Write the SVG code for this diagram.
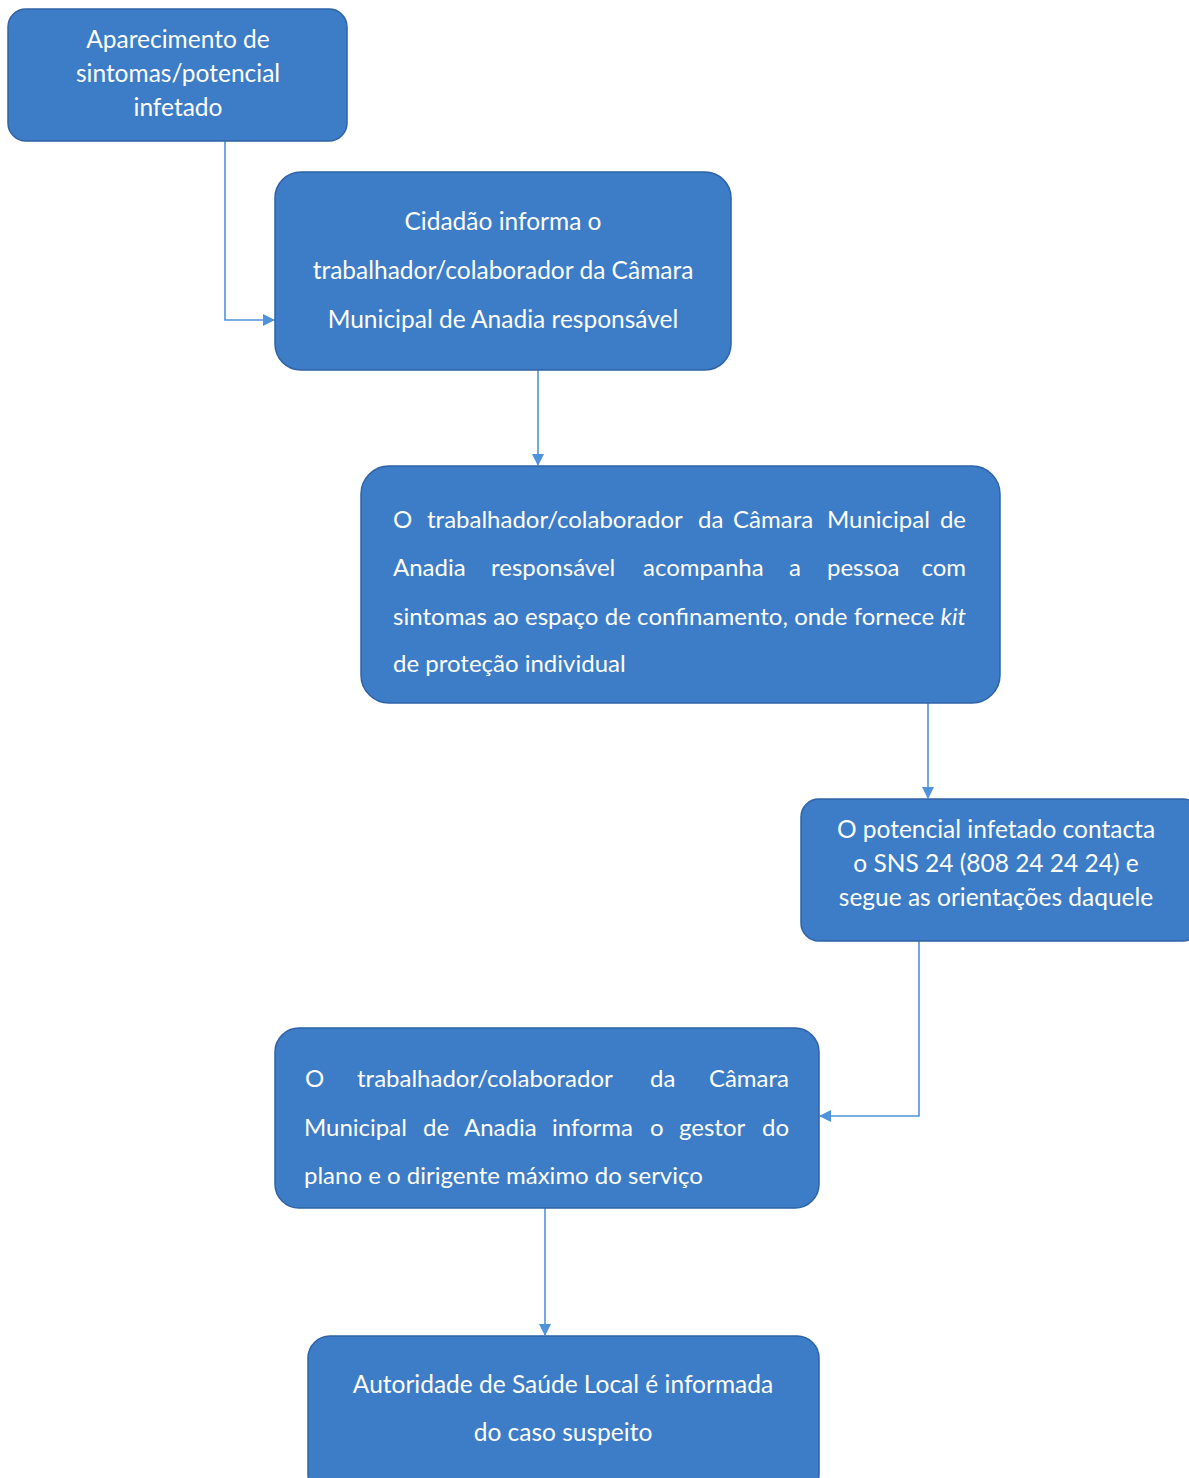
<svg xmlns="http://www.w3.org/2000/svg" width="1189" height="1478" viewBox="0 0 1189 1478">
<style>
.box{fill:#3d7cc6;stroke:#2f63a6;stroke-width:1.5}
.t{font-family:Lato,"Open Sans","Liberation Sans",sans-serif;font-size:24px;fill:#ffffff}
.c{text-anchor:middle;font-size:24.5px}
.e{text-anchor:end}
.conn{fill:none;stroke:#4f93dc;stroke-width:1.6}
</style>
<defs>
<marker id="arr" viewBox="0 0 12 12" refX="11" refY="6" markerWidth="12" markerHeight="12" markerUnits="userSpaceOnUse" orient="auto">
<path d="M0,0 L12,6 L0,12 z" fill="#4f93dc"/>
</marker>
</defs>
<rect width="1189" height="1478" fill="#ffffff"/>
<g id="connectors">
<path class="conn" d="M225,141 V320 H274" marker-end="url(#arr)"/>
<path class="conn" d="M538,370 V465" marker-end="url(#arr)"/>
<path class="conn" d="M928,703 V798" marker-end="url(#arr)"/>
<path class="conn" d="M919,941 V1116 H820" marker-end="url(#arr)"/>
<path class="conn" d="M545,1208 V1335" marker-end="url(#arr)"/>
</g>
<g id="n1">
<rect class="box" x="8" y="9" width="339" height="132" rx="18"/>
<text class="t c" x="178" y="48">Aparecimento de</text>
<text class="t c" x="178" y="82">sintomas/potencial</text>
<text class="t c" x="178" y="116">infetado</text>
</g>
<g id="n2">
<rect class="box" x="275" y="172" width="456" height="198" rx="26"/>
<text class="t c" x="503" y="230">Cidadão informa o</text>
<text class="t c" x="503" y="279">trabalhador/colaborador da Câmara</text>
<text class="t c" x="503" y="328">Municipal de Anadia responsável</text>
</g>
<g id="n3">
<rect class="box" x="361" y="466" width="639" height="237" rx="28"/>
<text class="t" y="528"><tspan x="393">O</tspan><tspan x="427">trabalhador/colaborador</tspan><tspan x="698">da</tspan><tspan x="733">Câmara</tspan><tspan x="827">Municipal</tspan></text>
<text class="t e" x="966" y="528">de</text>
<text class="t" y="576"><tspan x="393">Anadia</tspan><tspan x="491">responsável</tspan><tspan x="643">acompanha</tspan><tspan x="789">a</tspan><tspan x="827">pessoa</tspan></text>
<text class="t e" x="966" y="576">com</text>
<text class="t" x="393" y="625" textLength="573" lengthAdjust="spacing">sintomas ao espaço de confinamento, onde fornece <tspan font-style="italic">kit</tspan></text>
<text class="t" x="393" y="672">de proteção individual</text>
</g>
<g id="n4">
<rect class="box" x="801" y="799" width="400" height="142" rx="18"/>
<text class="t c" x="996" y="838">O potencial infetado contacta</text>
<text class="t c" x="996" y="872">o SNS 24 (808 24 24 24) e</text>
<text class="t c" x="996" y="906">segue as orientações daquele</text>
</g>
<g id="n5">
<rect class="box" x="275" y="1028" width="544" height="180" rx="24"/>
<text class="t" y="1087"><tspan x="305">O</tspan><tspan x="357">trabalhador/colaborador</tspan><tspan x="650">da</tspan></text>
<text class="t e" x="789" y="1087">Câmara</text>
<text class="t" y="1136"><tspan x="304">Municipal</tspan><tspan x="423">de</tspan><tspan x="464">Anadia</tspan><tspan x="552">informa</tspan><tspan x="650">o</tspan><tspan x="679">gestor</tspan></text>
<text class="t e" x="789" y="1136">do</text>
<text class="t" x="304" y="1184">plano e o dirigente máximo do serviço</text>
</g>
<g id="n6">
<rect class="box" x="308" y="1336" width="511" height="160" rx="22"/>
<text class="t c" x="563" y="1393">Autoridade de Saúde Local é informada</text>
<text class="t c" x="563" y="1441">do caso suspeito</text>
</g>
</svg>
